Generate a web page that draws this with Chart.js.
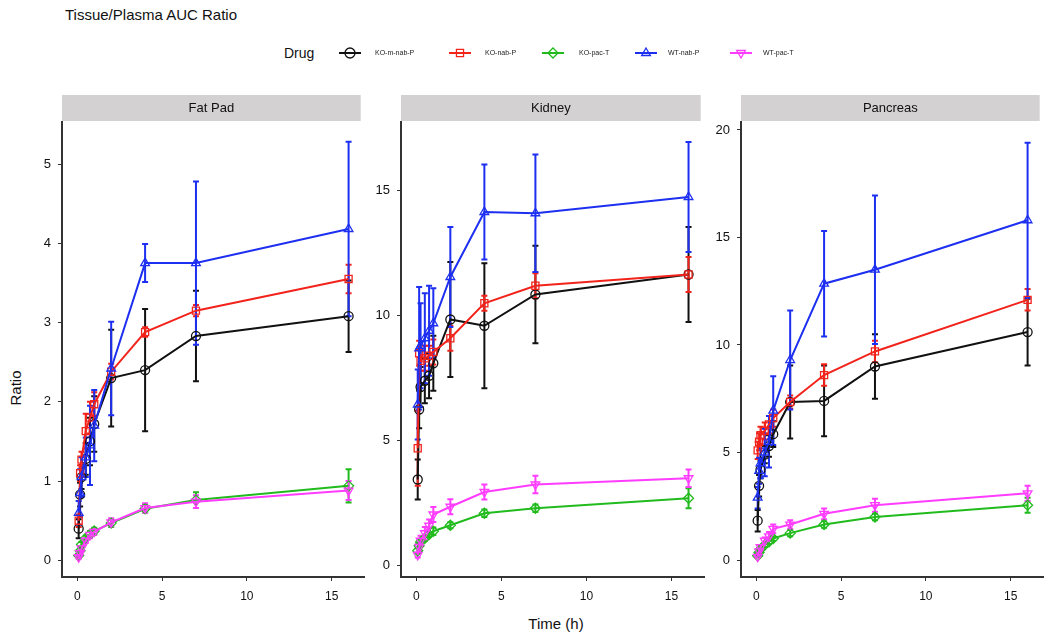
<!DOCTYPE html>
<html>
<head>
<meta charset="utf-8">
<script src="https://cdn.jsdelivr.net/npm/chart.js@4/dist/chart.umd.min.js"></script>
<style>
  html, body { margin: 0; padding: 0; background: #fff; }
  body { width: 1050px; height: 638px; position: relative; overflow: hidden;
         font-family: "Liberation Sans", Arial, sans-serif; color: #111; }
  .abs { position: absolute; }
  canvas.panel { position: absolute; top: 90px; }
  #title { left: 65px; top: 6px; font-size: 15px; }
  #drug { left: 284px; top: 45px; font-size: 14px; }
  .leg { font-size: 7px; top: 49px; color: #222; }
  #xtitle { left: 0; width: 1112px; text-align: center; top: 615px; font-size: 15px; }
  #ytitle { left: 15px; top: 388px; font-size: 15px; transform: translate(-50%, -50%) rotate(-90deg); }
</style>
</head>
<body>
<div id="title" class="abs">Tissue/Plasma AUC Ratio</div>
<div id="drug" class="abs">Drug</div>
<canvas id="legendCanvas" class="abs" width="1050" height="30" style="left:0;top:39px"></canvas>
<div id="xtitle" class="abs">Time (h)</div>
<div id="ytitle" class="abs">Ratio</div>
<canvas id="fat" class="panel" width="351" height="548" style="left:20px"></canvas>
<canvas id="kidney" class="panel" width="352" height="548" style="left:359px"></canvas>
<canvas id="pancreas" class="panel" width="351" height="548" style="left:699px"></canvas>
<script>
// sampling times (h)
const times = [0.083, 0.167, 0.25, 0.5, 0.75, 1, 2, 4, 7, 16];

const drugs = ["KO-m-nab-P", "KO-nab-P", "KO-pac-T", "WT-nab-P", "WT-pac-T"];
const drugColors = ["#111111", "#f2231b", "#22bb1e", "#1d2ff0", "#ff3cff"];
const drugShapes = ["circle", "rect", "rectRot", "triangle", "triangle"];
const drugRotation = [0, 0, 0, 0, 180];

const xTicks = [0, 5, 10, 15];

// Fat Pad
const fatKOmNabP = [0.40, 0.83, 1.05, 1.28, 1.50, 1.72, 2.30, 2.40, 2.83, 3.08];
const fatKOmNabPSd = [0.12, 0.15, 0.15, 0.20, 0.30, 0.35, 0.61, 0.77, 0.57, 0.45];
const fatKONabP = [0.50, 1.10, 1.27, 1.63, 1.80, 1.97, 2.38, 2.88, 3.15, 3.55];
const fatKONabPSd = [0.08, 0.10, 0.10, 0.22, 0.20, 0.15, 0.10, 0.06, 0.07, 0.18];
const fatKOPacT = [0.06, 0.12, 0.20, 0.28, 0.33, 0.37, 0.47, 0.65, 0.76, 0.94];
const fatKOPacTSd = [0.02, 0.03, 0.03, 0.03, 0.04, 0.04, 0.05, 0.05, 0.10, 0.21];
const fatWTNabP = [0.60, 0.85, 1.05, 1.30, 1.45, 1.70, 2.42, 3.75, 3.75, 4.18];
const fatWTNabPSd = [0.15, 0.30, 0.25, 0.25, 0.50, 0.45, 0.59, 0.24, 1.03, 1.10];
const fatWTPacT = [0.04, 0.09, 0.15, 0.25, 0.32, 0.36, 0.48, 0.66, 0.74, 0.88];
const fatWTPacTSd = [0.02, 0.02, 0.03, 0.03, 0.04, 0.04, 0.05, 0.06, 0.08, 0.12];
const fatYTicks = [0, 1, 2, 3, 4, 5];

// Kidney
const kidKOmNabP = [3.45, 6.25, 7.15, 7.40, 7.60, 8.10, 9.85, 9.60, 10.85, 11.65];
const kidKOmNabPSd = [0.80, 0.75, 0.80, 0.90, 0.90, 1.10, 2.30, 2.50, 1.95, 1.90];
const kidKONabP = [4.70, 8.50, 8.20, 8.30, 8.40, 8.55, 9.10, 10.50, 11.20, 11.65];
const kidKONabPSd = [1.50, 0.50, 0.40, 0.50, 0.40, 0.50, 0.50, 0.30, 0.50, 0.70];
const kidKOPacT = [0.60, 0.80, 0.95, 1.10, 1.25, 1.38, 1.62, 2.10, 2.30, 2.70];
const kidKOPacTSd = [0.10, 0.10, 0.10, 0.10, 0.10, 0.15, 0.12, 0.15, 0.15, 0.40];
const kidWTNabP = [6.45, 8.70, 8.80, 9.10, 9.40, 9.70, 11.55, 14.15, 14.10, 14.75];
const kidWTNabPSd = [1.40, 2.45, 1.70, 1.80, 1.80, 1.40, 2.00, 1.90, 2.35, 2.20];
const kidWTPacT = [0.43, 0.75, 1.00, 1.30, 1.60, 2.05, 2.36, 2.95, 3.25, 3.50];
const kidWTPacTSd = [0.10, 0.15, 0.20, 0.25, 0.25, 0.30, 0.30, 0.30, 0.35, 0.35];
const kidYTicks = [0, 5, 10, 15];

// Pancreas
const panKOmNabP = [1.83, 3.45, 4.20, 4.90, 5.30, 5.85, 7.35, 7.40, 9.00, 10.60];
const panKOmNabPSd = [0.50, 0.50, 0.40, 0.40, 0.50, 0.60, 1.70, 1.65, 1.50, 1.55];
const panKONabP = [5.10, 5.50, 5.80, 6.00, 6.30, 6.60, 7.35, 8.60, 9.70, 12.10];
const panKONabPSd = [0.40, 0.40, 0.40, 0.40, 0.40, 0.40, 0.30, 0.50, 0.50, 0.50];
const panKOPacT = [0.20, 0.35, 0.50, 0.70, 0.85, 1.00, 1.25, 1.65, 2.00, 2.55];
const panKOPacTSd = [0.05, 0.05, 0.10, 0.10, 0.10, 0.10, 0.15, 0.15, 0.15, 0.35];
const panWTNabP = [2.90, 4.15, 4.50, 5.00, 5.50, 6.95, 9.30, 12.85, 13.50, 15.80];
const panWTNabPSd = [0.50, 0.60, 0.70, 1.10, 1.20, 1.60, 2.30, 2.45, 3.45, 3.60];
const panWTPacT = [0.15, 0.40, 0.60, 0.90, 1.10, 1.45, 1.65, 2.15, 2.55, 3.10];
const panWTPacTSd = [0.05, 0.10, 0.10, 0.15, 0.20, 0.20, 0.20, 0.25, 0.30, 0.35];
const panYTicks = [0, 5, 10, 15, 20];

const FONT = "'Liberation Sans', Arial, sans-serif";

// strip header (facet label) above each plot area
const stripPlugin = {
  id: "strip",
  beforeDraw(chart, args, opts) {
    const { ctx, chartArea } = chart;
    ctx.save();
    ctx.fillStyle = "#d3d1d1";
    ctx.fillRect(chartArea.left, 5, chartArea.right - chartArea.left - 4, 26);
    ctx.fillStyle = "#111";
    ctx.font = "13px " + FONT;
    ctx.textAlign = "center";
    ctx.textBaseline = "middle";
    ctx.fillText(opts.text, (chartArea.left + chartArea.right - 4) / 2, 18);
    ctx.restore();
  },
};

// mean ± SD whiskers
const errorBarPlugin = {
  id: "errorBars",
  beforeDatasetsDraw(chart) {
    const { ctx } = chart;
    const yScale = chart.scales.y;
    chart.data.datasets.forEach((ds, i) => {
      const meta = chart.getDatasetMeta(i);
      ctx.save();
      ctx.strokeStyle = ds.borderColor;
      ctx.lineWidth = 2;
      meta.data.forEach((pt, j) => {
        const v = ds.data[j].y;
        const sd = ds.errors[j];
        const top = yScale.getPixelForValue(v + sd);
        const bot = yScale.getPixelForValue(v - sd);
        ctx.beginPath();
        ctx.moveTo(pt.x, top);
        ctx.lineTo(pt.x, bot);
        ctx.moveTo(pt.x - 3, top);
        ctx.lineTo(pt.x + 3, top);
        ctx.moveTo(pt.x - 3, bot);
        ctx.lineTo(pt.x + 3, bot);
        ctx.stroke();
      });
      ctx.restore();
    });
  },
};

function makeDatasets(values, sds) {
  return values.map((vals, k) => ({
    label: drugs[k],
    data: vals.map((v, j) => ({ x: times[j], y: v })),
    errors: sds[k],
    borderColor: drugColors[k],
    backgroundColor: "rgba(0,0,0,0)",
    pointBorderColor: drugColors[k],
    pointBackgroundColor: "rgba(0,0,0,0)",
    pointStyle: drugShapes[k],
    pointRotation: drugRotation[k],
    pointRadius: k === 0 ? 4.5 : 5,
    pointBorderWidth: 1.3,
    borderWidth: 2,
    tension: 0,
    order: 5 - k,
  }));
}

function makePanel(id, title, values, sds, yMin, yMax, yTicks) {
  const axisColor = "#333";
  new Chart(document.getElementById(id), {
    type: "line",
    data: { datasets: makeDatasets(values, sds) },
    plugins: [stripPlugin, errorBarPlugin],
    options: {
      responsive: false,
      animation: false,
      layout: { padding: { top: 32, right: 6, bottom: 31, left: 0 } },
      plugins: {
        legend: { display: false },
        tooltip: { enabled: false },
        strip: { text: title },
      },
      scales: {
        x: {
          type: "linear",
          min: -0.9,
          max: 16.95,
          afterBuildTicks: (s) => { s.ticks = xTicks.map((v) => ({ value: v })); },
          afterFit: (s) => { s.height = 30; },
          border: { display: true, color: axisColor, width: 2 },
          grid: { drawOnChartArea: false, drawTicks: true, tickLength: 4, color: axisColor },
          ticks: { color: "#111", font: { family: FONT, size: 12 }, padding: 8, maxRotation: 0 },
        },
        y: {
          type: "linear",
          min: yMin,
          max: yMax,
          afterBuildTicks: (s) => { s.ticks = yTicks.map((v) => ({ value: v })); },
          afterFit: (s) => { s.width = 42; },
          border: { display: true, color: axisColor, width: 2 },
          grid: { drawOnChartArea: false, drawTicks: true, tickLength: 4, color: axisColor },
          ticks: { color: "#111", font: { family: FONT, size: 13 }, padding: 7 },
        },
      },
    },
  });
}

makePanel("fat", "Fat Pad",
  [fatKOmNabP, fatKONabP, fatKOPacT, fatWTNabP, fatWTPacT],
  [fatKOmNabPSd, fatKONabPSd, fatKOPacTSd, fatWTNabPSd, fatWTPacTSd],
  -0.21, 5.53, fatYTicks);
makePanel("kidney", "Kidney",
  [kidKOmNabP, kidKONabP, kidKOPacT, kidWTNabP, kidWTPacT],
  [kidKOmNabPSd, kidKONabPSd, kidKOPacTSd, kidWTNabPSd, kidWTPacTSd],
  -0.45, 17.75, kidYTicks);
makePanel("pancreas", "Pancreas",
  [panKOmNabP, panKONabP, panKOPacT, panWTNabP, panWTPacT],
  [panKOmNabPSd, panKONabPSd, panKOPacTSd, panWTNabPSd, panWTPacTSd],
  -0.79, 20.37, panYTicks);

// legend keys
const legendX = [350, 460, 553, 646, 741];
const legendLabelX = [375, 485, 579, 668, 763];
const lctx = document.getElementById("legendCanvas").getContext("2d");
drugs.forEach((name, k) => {
  const cx = legendX[k], cy = 14;
  lctx.strokeStyle = drugColors[k];
  lctx.fillStyle = "rgba(0,0,0,0)";
  lctx.lineWidth = 2;
  lctx.beginPath();
  lctx.moveTo(cx - 11, cy);
  lctx.lineTo(cx + 11, cy);
  lctx.stroke();
  lctx.lineWidth = 1.3;
  Chart.helpers.drawPoint(lctx, {
    pointStyle: drugShapes[k],
    rotation: drugRotation[k],
    radius: 5,
    borderWidth: 1.3,
  }, cx, cy);
  const span = document.createElement("div");
  span.className = "abs leg";
  span.style.left = legendLabelX[k] + "px";
  span.textContent = name;
  document.body.appendChild(span);
});
</script>
</body>
</html>
